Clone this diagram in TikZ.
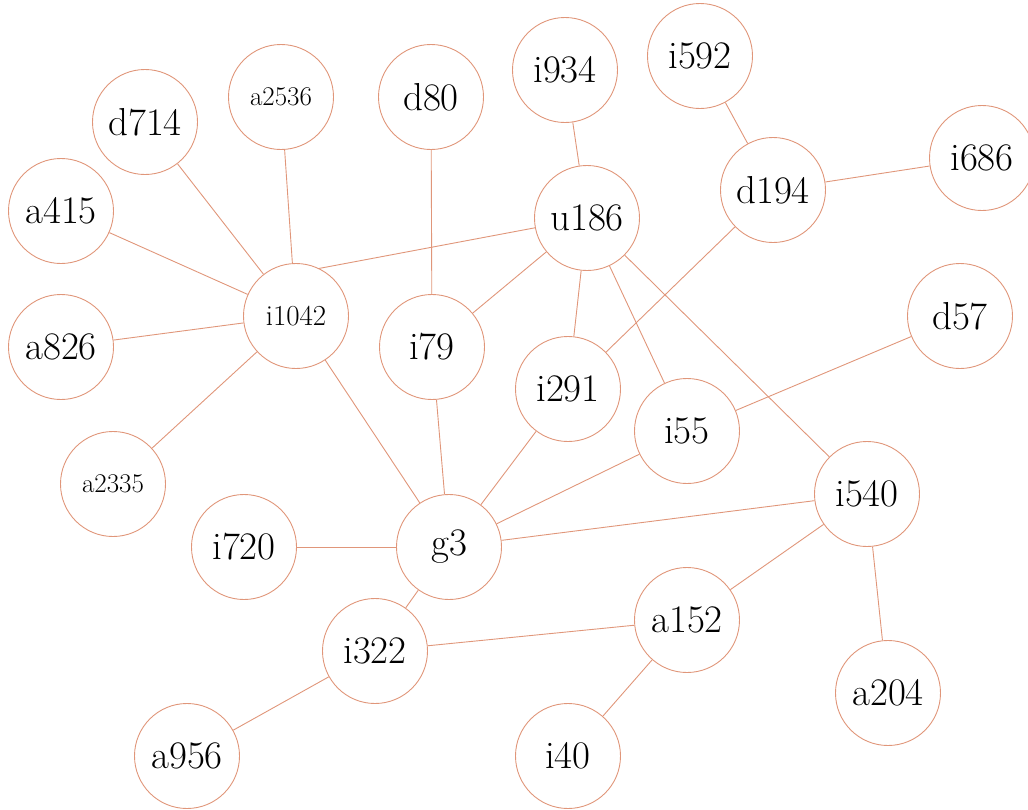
\documentclass[tikz,border=0pt]{standalone}
\usepackage{fontspec}
\usepackage{tikz}
\usetikzlibrary{positioning}
\definecolor{rim}{HTML}{E0967A}

\tikzset{
  vertex/.style={circle, draw=rim, line width=0.9pt, minimum size=105pt,
    inner sep=0pt, font=\fontsize{39}{39}\selectfont},
  small/.style={font=\fontsize{27}{27}\selectfont},
  link/.style={draw=rim, line width=0.9pt}
}

\begin{document}
\begin{tikzpicture}[x=1pt, y=-1pt]
  \useasboundingbox (0,0) rectangle (1028,809);

  % upper row
  \node[vertex] (i592) at (700,56) {i592};
  \node[vertex] (i934) at (565,70) {i934};
  \node[vertex] (d80) at (431,97) {d80};
  \node[vertex, small] (a2536) at (281,97) {a2536};
  \node[vertex] (d714) at (145,122) {d714};
  \node[vertex] (i686) at (982,158) {i686};
  \node[vertex] (d194) at (773,190) {d194};
  \node[vertex] (a415) at (61,211) {a415};
  \node[vertex] (u186) at (587,218) {u186};

  % middle
  \node[vertex, font=\fontsize{29}{29}\selectfont] (i1042) at (296,316) {i1042};
  \node[vertex] (a826) at (61,347) {a826};
  \node[vertex] (i79) at (432,347) {i79};
  \node[vertex] (d57) at (960,316) {d57};
  \node[vertex] (i291) at (568,389) {i291};
  \node[vertex] (i55) at (687,431) {i55};
  \node[vertex, small] (a2335) at (113,484) {a2335};
  \node[vertex] (i540) at (867,494) {i540};

  % lower part
  \node[vertex] (i720) at (244,547) {i720};
  \node[vertex] (g3) at (449,547) {g3};
  \node[vertex] (a152) at (687,620) {a152};
  \node[vertex] (i322) at (375,651) {i322};
  \node[vertex] (a204) at (888,693) {a204};
  \node[vertex] (a956) at (187,756) {a956};
  \node[vertex] (i40) at (568,756) {i40};

  % connections
  \path[link] (i592) -- (d194);
  \path[link] (d194) -- (i686);
  \path[link] (d194) -- (i291);
  \path[link] (i934) -- (u186);
  \path[link] (u186) -- (i1042.64);
  \path[link] (u186) -- (i79);
  \path[link] (u186) -- (i291);
  \path[link] (u186) -- (i55);
  \path[link] (u186) -- (i540);
  \path[link] (d80) -- (i79);
  \path[link] (a2536) -- (i1042);
  \path[link] (d714) -- (i1042);
  \path[link] (a415) -- (i1042);
  \path[link] (a826) -- (i1042);
  \path[link] (a2335) -- (i1042);
  \path[link] (i1042) -- (g3);
  \path[link] (i79) -- (g3);
  \path[link] (i291) -- (g3);
  \path[link] (i55) -- (g3);
  \path[link] (i540) -- (g3);
  \path[link] (i720) -- (g3);
  \path[link] (g3) -- (i322);
  \path[link] (d57) -- (i55);
  \path[link] (i540) -- (a152);
  \path[link] (i540) -- (a204);
  \path[link] (a152) -- (i322);
  \path[link] (a152) -- (i40);
  \path[link] (i322) -- (a956);
\end{tikzpicture}
\end{document}
